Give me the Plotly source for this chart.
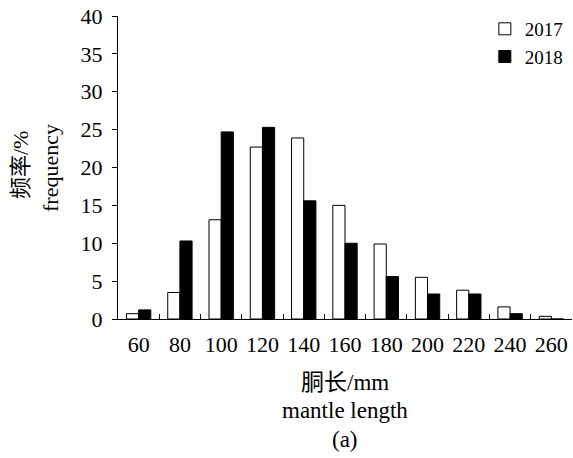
import plotly.graph_objects as go

categories = ["60", "80", "100", "120", "140", "160", "180", "200", "220", "240", "260"]
freq_2017 = [0.7, 3.5, 13.1, 22.7, 23.9, 15.0, 9.9, 5.5, 3.8, 1.6, 0.35]
freq_2018 = [1.2, 10.3, 24.7, 25.3, 15.6, 10.0, 5.6, 3.3, 3.3, 0.7, 0.0]
y_ticks = [0, 5, 10, 15, 20, 25, 30, 35, 40]

SERIF = "Liberation Serif"
CJK = "Liberation Serif, Noto Sans CJK SC"
FS = 22

fig = go.Figure()
fig.add_trace(go.Bar(x=categories, y=freq_2017, name="2017",
                     marker=dict(color="white", line=dict(color="black", width=1))))
fig.add_trace(go.Bar(x=categories, y=freq_2018, name="2018",
                     marker=dict(color="black", line=dict(color="black", width=1))))

fig.update_layout(
    width=573, height=458,
    margin=dict(l=118, r=1, t=16, b=139),
    paper_bgcolor="white", plot_bgcolor="white",
    barmode="group", bargap=0.41, bargroupgap=0,
    font=dict(family=SERIF, size=FS, color="black"),
    legend=dict(x=0.808, y=1.02, xanchor="left", yanchor="top",
                font=dict(family=SERIF, size=19), bgcolor="rgba(0,0,0,0)",
                itemwidth=30, tracegroupgap=0),
    showlegend=True,
)
fig.update_xaxes(type="category", showline=True, linecolor="black", linewidth=1,
                 ticks="inside", ticklen=5, tickcolor="black", tickson="boundaries",
                 showgrid=False, tickfont=dict(family=SERIF, size=FS),
                 tickangle=0, ticklabelstandoff=6)
fig.update_yaxes(range=[0, 40], tickvals=y_ticks, showline=True, linecolor="black",
                 linewidth=1, ticks="outside", ticklen=5, tickcolor="black",
                 showgrid=False, zeroline=False, tickfont=dict(family=SERIF, size=FS),
                 ticklabelstandoff=5)

x_title_lines = ["胴长/mm", "mantle length", "(a)"]
x_title_ypx = [382, 410, 439]
for text, ypx in zip(x_title_lines, x_title_ypx):
    fig.add_annotation(text=text, xref="paper", x=0.5, yref="paper",
                       y=(319 - ypx) / 303, showarrow=False, xanchor="center",
                       yanchor="middle", font=dict(family=CJK, size=23))
fig.add_annotation(text="频率/%", xref="paper", x=(20 - 118) / 454, yref="paper",
                   y=(319 - 165) / 303, showarrow=False, textangle=-90,
                   xanchor="center", yanchor="middle", font=dict(family=CJK, size=FS))
fig.add_annotation(text="frequency", xref="paper", x=(50 - 118) / 454, yref="paper",
                   y=(319 - 168) / 303, showarrow=False, textangle=-90,
                   xanchor="center", yanchor="middle", font=dict(family=SERIF, size=FS))

fig.write_html("out.html", config={"displayModeBar": False},
               post_script="document.body.style.margin='0';")
